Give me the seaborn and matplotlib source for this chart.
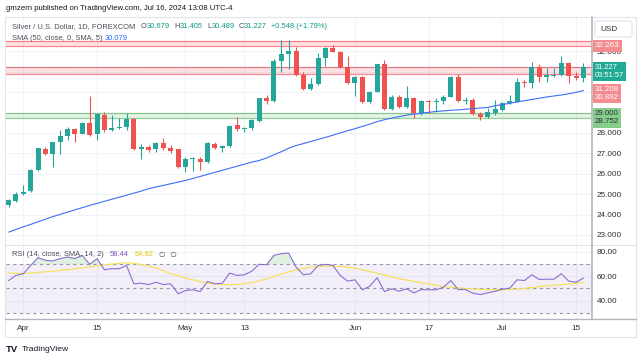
import matplotlib
matplotlib.use("Agg")
import matplotlib.pyplot as plt
import seaborn as sns
import numpy as np
import pandas as pd
from matplotlib.lines import Line2D
from matplotlib.patches import FancyBboxPatch
from matplotlib import transforms

# ---------------- data ----------------
dates = pd.bdate_range("2024-03-28", "2024-07-16")

opens = [24.48, 24.68, 24.99, 25.15, 26.17, 27.21, 26.95, 27.54, 27.87, 28.18,
         27.95, 28.47, 27.93, 28.88, 28.14, 28.22, 28.27, 28.68, 27.21, 27.33,
         27.21, 27.49, 27.28, 27.20, 26.31, 26.71, 26.72, 26.57, 27.46, 27.24,
         27.36, 28.39, 28.19, 28.22, 28.58, 29.70, 29.56, 31.53, 31.85, 32.02,
         30.84, 30.15, 30.38, 31.66, 32.15, 31.98, 31.21, 30.43, 30.76, 29.50,
         30.02, 31.36, 29.17, 29.78, 29.29, 29.73, 28.96, 29.56, 29.50, 29.56,
         29.78, 30.76, 29.55, 29.60, 28.94, 28.80, 28.98, 29.12, 29.48, 29.53,
         30.51, 30.43, 31.21, 30.76, 30.81, 30.84, 31.44, 30.81, 30.679]
highs = [24.76, 25.12, 25.45, 26.23, 27.28, 27.33, 27.57, 28.14, 28.31, 28.22,
         28.55, 29.81, 28.93, 29.04, 28.88, 28.71, 28.96, 28.71, 27.44, 27.41,
         27.57, 27.74, 27.41, 27.22, 26.84, 26.84, 26.84, 27.57, 27.57, 27.41,
         28.39, 28.80, 28.31, 28.67, 29.73, 29.86, 31.61, 32.55, 32.55, 32.23,
         30.97, 30.68, 31.90, 32.23, 32.31, 32.02, 31.79, 30.79, 30.79, 30.05,
         31.39, 31.57, 29.86, 29.86, 30.32, 29.76, 29.60, 29.60, 29.70, 29.86,
         30.79, 30.89, 29.76, 29.70, 29.04, 29.20, 29.61, 29.53, 29.86, 30.68,
         30.59, 31.49, 31.36, 31.17, 31.20, 31.79, 31.49, 30.97, 31.405]
lows = [24.38, 24.63, 24.96, 25.12, 26.15, 26.92, 26.35, 26.95, 27.65, 27.57,
        27.93, 27.85, 27.65, 28.06, 28.11, 28.20, 28.14, 27.16, 26.72, 27.08,
        27.05, 27.16, 27.00, 26.28, 26.10, 26.13, 26.18, 26.55, 27.21, 27.05,
        27.33, 28.11, 28.03, 28.14, 28.55, 29.40, 29.53, 31.00, 31.13, 30.81,
        30.10, 30.10, 30.35, 31.30, 31.95, 31.17, 30.40, 29.83, 29.45, 29.45,
        29.99, 29.14, 29.12, 29.24, 29.24, 28.71, 28.88, 28.96, 29.01, 29.40,
        29.74, 29.50, 29.40, 28.88, 28.63, 28.71, 28.88, 29.07, 29.42, 29.50,
        30.27, 30.19, 30.51, 30.51, 30.76, 30.81, 30.43, 30.59, 30.489]
closes = [24.70, 25.01, 25.12, 26.18, 27.24, 26.95, 27.54, 27.87, 28.18, 27.95,
          28.50, 27.90, 28.91, 28.14, 28.22, 28.27, 28.68, 27.21, 27.33, 27.16,
          27.49, 27.28, 27.13, 26.31, 26.71, 26.75, 26.57, 27.49, 27.24, 27.36,
          28.36, 28.18, 28.22, 28.63, 29.70, 29.56, 31.53, 31.85, 32.03, 30.84,
          30.15, 30.38, 31.66, 32.15, 31.98, 31.21, 30.43, 30.76, 29.50, 30.02,
          31.36, 29.17, 29.78, 29.29, 29.73, 28.96, 29.56, 29.50, 29.56, 29.78,
          30.76, 29.56, 29.60, 28.91, 28.80, 29.01, 29.17, 29.48, 29.58, 30.51,
          30.43, 31.21, 30.76, 30.84, 30.84, 31.44, 30.81, 30.679, 31.227]
sma50 = [23.14, 23.27, 23.40, 23.52, 23.65, 23.77, 23.90, 24.01, 24.12, 24.23,
         24.34, 24.45, 24.55, 24.65, 24.75, 24.85, 24.95, 25.05, 25.15, 25.27,
         25.35, 25.43, 25.51, 25.59, 25.67, 25.77, 25.87, 25.97, 26.07, 26.17,
         26.27, 26.37, 26.47, 26.57, 26.65, 26.77, 26.93, 27.08, 27.25, 27.38,
         27.48, 27.58, 27.68, 27.78, 27.89, 28.00, 28.11, 28.21, 28.32, 28.43,
         28.55, 28.65, 28.73, 28.80, 28.87, 28.92, 28.97, 29.01, 29.05, 29.08,
         29.11, 29.13, 29.16, 29.19, 29.22, 29.25, 29.33, 29.39, 29.45, 29.52,
         29.58, 29.64, 29.70, 29.76, 29.81, 29.86, 29.92, 29.99, 30.079]
rsi = [56.4, 60.6, 62.0, 68.8, 75.2, 73.0, 72.5, 74.4, 75.7, 74.5,
       77.1, 69.7, 74.4, 65.3, 66.1, 66.1, 68.8, 53.7, 54.2, 53.1,
       55.0, 53.1, 53.7, 45.5, 48.2, 48.8, 47.4, 55.6, 53.7, 54.2,
       62.5, 60.6, 61.1, 64.1, 69.7, 69.4, 77.1, 78.5, 79.0, 67.5,
       61.1, 62.0, 68.8, 69.7, 68.8, 60.6, 55.9, 57.0, 48.8, 51.7,
       58.7, 47.4, 49.6, 47.6, 49.6, 46.3, 49.0, 48.8, 48.8, 50.9,
       56.4, 49.0, 49.0, 46.0, 44.9, 46.3, 47.6, 49.3, 50.1, 57.0,
       56.4, 61.1, 57.3, 57.5, 57.5, 62.0, 55.9, 55.0, 58.44]
rsi_ma = [62.6, 62.3, 62.2, 62.6, 63.0, 63.6, 64.1, 64.7, 65.3, 66.0,
          66.8, 67.6, 68.5, 69.2, 69.9, 70.6, 71.0, 70.6, 69.5, 68.3,
          66.8, 64.5, 62.0, 60.5, 58.3, 57.0, 55.3, 54.5, 53.5, 53.0,
          52.9, 53.3, 53.8, 54.8, 56.0, 57.8, 59.8, 61.8, 63.5, 65.1,
          66.3, 67.4, 68.0, 68.3, 68.2, 68.0, 67.5, 66.5, 65.2, 63.8,
          62.5, 61.0, 59.4, 57.8, 56.8, 55.7, 54.6, 53.7, 52.5, 51.5,
          50.9, 50.4, 49.9, 49.5, 49.2, 48.9, 48.8, 48.8, 49.0, 49.3,
          49.9, 50.6, 51.3, 52.0, 52.5, 53.0, 53.5, 54.0, 54.92]

time_tick_dates = ["2024-04-01", "2024-04-15", "2024-05-01", "2024-05-13",
                   "2024-06-03", "2024-06-17", "2024-07-01", "2024-07-15"]
time_tick_labels = ["Apr", "15", "May", "13", "Jun", "17", "Jul", "15"]
price_ticks = [23, 24, 25, 26, 27, 28, 29, 30, 31, 32]
price_tick_shown = [23, 24, 25, 26, 27, 28, 32]
rsi_ticks = [40, 60, 80]
zone_top = (32.263, 32.51)
zone_mid = (30.892, 31.208)
zone_support = (28.752, 29.0)
last_price = 31.227

# ---------------- style ----------------
UP, DOWN = "#26a69a", "#ef5350"
TXT = "#2a2e39"
GRID = "#f0f3fa"
sns.set_theme(style="white")
plt.rcParams["font.family"] = ["Liberation Sans", "DejaVu Sans"]

W, H = 643, 361
fig = plt.figure(figsize=(W / 100, H / 100), dpi=100)
fig.patch.set_facecolor("white")
renderer = fig.canvas.get_renderer()


def fx(px):
    return px / W


def fy(py):
    return 1 - py / H


LX, RX = 6, 592
ax = fig.add_axes([fx(LX), fy(245), fx(RX) - fx(LX), fy(17) - fy(245)])
ax2 = fig.add_axes([fx(LX), fy(319), fx(RX) - fx(LX), fy(245) - fy(319)], sharex=ax)

df = pd.DataFrame({"date": dates, "open": opens, "high": highs, "low": lows,
                   "close": closes, "sma": sma50, "rsi": rsi, "rsi_ma": rsi_ma})
df["i"] = np.arange(len(df))
pos = {d: i for i, d in enumerate(df["date"])}
tick_pos = [pos[pd.Timestamp(d)] for d in time_tick_dates]

# ---------------- price pane ----------------
up = df["close"] >= df["open"]
cols = np.where(up, UP, DOWN)
ax.vlines(df["i"], df["low"], df["high"], colors=cols, lw=0.8, zorder=3)
body = (df["close"] - df["open"]).abs().clip(lower=0.04)
ax.bar(df["i"], body, bottom=np.minimum(df["open"], df["close"]), width=0.68,
       color=cols, linewidth=0, zorder=4)

sns.lineplot(x=df["i"], y=df["sma"], ax=ax, color="#3d6ff5", lw=0.8, zorder=5)

for lo, hi, c in [(zone_top[0], zone_top[1], "#f23645"),
                  (zone_mid[0], zone_mid[1], "#f23645"),
                  (zone_support[0], zone_support[1], "#4caf50")]:
    ax.axhspan(lo, hi, color=c, alpha=0.14, lw=0, zorder=2)
    ax.axhline(lo, color=c, lw=0.9, alpha=0.6, zorder=2)
    ax.axhline(hi, color=c, lw=0.9, alpha=0.6, zorder=2)
ax.axhline(last_price, color="#7a7f8a", lw=0.6, ls=(0, (1, 1.5)), alpha=0.8, zorder=2)

ax.set_xlim(-0.35, 79.16)
ax.set_ylim(22.51, 33.68)
ax.set_yticks(price_ticks)
ax.set_yticklabels([f"{t:.3f}" if t in price_tick_shown else "" for t in price_ticks])
ax.yaxis.tick_right()
ax.tick_params(axis="y", length=0, pad=3.6, labelsize=5.9, labelcolor=TXT)
ax.set_xticks(tick_pos)
ax.tick_params(axis="x", length=0, labelbottom=False)
ax.grid(True, color=GRID, lw=0.8)
ax.set_axisbelow(True)
ax.set_xlabel("")
ax.set_ylabel("")
for s in ax.spines.values():
    s.set_visible(False)

# right-side price labels
blend = transforms.blended_transform_factory(ax.transAxes, ax.transData)


def plabel(text, value, dy, fc, tc, size=5.9):
    ax.annotate(text, xy=(1.0, value), xycoords=blend, xytext=(2.8, dy),
                textcoords="offset pixels", ha="left", va="center", fontsize=size,
                color=tc, zorder=20, annotation_clip=False,
                bbox=dict(boxstyle="square,pad=0.28", fc=fc, ec="none"))


plabel("32.263", zone_top[0], 0, "#f58a8f", "white")
plabel("31.227\n03:51:57", last_price, -4.6, "#22ab94", "white", size=5.4)
plabel("31.208\n30.892", zone_mid[1], -26.0, "#f58a8f", "white", size=5.7)
plabel("29.000\n28.752", zone_support[1], -5.3, "#86cc8a", TXT, size=5.7)

# ---------------- RSI pane ----------------
ax2.axhspan(30, 70, color="#7e57c2", alpha=0.09, lw=0)
for lvl in (70, 50, 30):
    ax2.axhline(lvl, color="#9598a1", lw=0.8, ls=(0, (3, 3)))
ax2.fill_between(df["i"], df["rsi"], 70, where=df["rsi"] > 70, interpolate=True,
                 color="#4caf50", alpha=0.18, lw=0)
sns.lineplot(x=df["i"], y=df["rsi_ma"], ax=ax2, color="#f5e050", lw=0.8)
sns.lineplot(x=df["i"], y=df["rsi"], ax=ax2, color="#8a6fd1", lw=0.8)
ax2.set_ylim(24.8, 85.6)
ax2.set_yticks(rsi_ticks)
ax2.set_yticklabels([f"{t:.2f}" for t in rsi_ticks])
ax2.yaxis.tick_right()
ax2.tick_params(axis="y", length=0, pad=3.6, labelsize=5.9, labelcolor=TXT)
ax2.set_xticks(tick_pos)
ax2.set_xticklabels(time_tick_labels)
ax2.tick_params(axis="x", length=0, pad=4.0, labelsize=5.9, labelcolor=TXT)
ax2.grid(True, color=GRID, lw=0.8)
ax2.set_axisbelow(True)
ax2.set_xlabel("")
ax2.set_ylabel("")
for s in ax2.spines.values():
    s.set_visible(False)


# ---------------- frame lines ----------------
def hline(y, x0, x1, color, lw):
    fig.add_artist(Line2D([fx(x0), fx(x1)], [fy(y), fy(y)], color=color, lw=lw,
                          transform=fig.transFigure))


def vline(x, y0, y1, color, lw):
    fig.add_artist(Line2D([fx(x), fx(x)], [fy(y0), fy(y1)], color=color, lw=lw,
                          transform=fig.transFigure))


hline(17, 5, 636, "#e0e3eb", 0.8)
hline(337, 5, 636, "#e0e3eb", 0.8)
vline(5, 17, 337, "#e0e3eb", 0.8)
vline(636, 17, 337, "#e0e3eb", 0.8)
hline(245, 5, 636, "#e0e3eb", 0.8)
hline(319, 5, 636, "#b2b5be", 1.0)
vline(592, 17, 319, "#b2b5be", 1.2)

# USD box
fig.add_artist(FancyBboxPatch((fx(595), fy(37)), fx(632) - fx(595), fy(21) - fy(37),
                              boxstyle="round,pad=0,rounding_size=0.006",
                              fc="white", ec="#e0e3eb", lw=0.8,
                              transform=fig.transFigure))
fig.text(fx(600), fy(29.5), "USD", fontsize=5.9, color=TXT, va="center", ha="left")


# ---------------- texts ----------------
def seq_text(x_px, y_fig, parts, size):
    """Write coloured parts one after the other, starting at x_px."""
    x = x_px
    for txt, col, gap in parts:
        t = fig.text(fx(x), y_fig, txt, fontsize=size, color=col, va="center")
        x += t.get_window_extent(renderer).width + gap
    return x


fig.text(fx(6), fy(8.5), "gmzern published on TradingView.com, Jul 16, 2024 13:08 UTC-4",
         fontsize=5.6, color="#131722", va="center", ha="left")

LG = "#4a4e59"
TEAL = "#089981"
FS = 5.4
y1 = fy(26.5)
fig.text(fx(11.7), y1, "Silver / U.S. Dollar, 1D, FOREXCOM", fontsize=FS, color=LG, va="center")
seq_text(141.0, y1, [("O", LG, 0.3), ("30.679", TEAL, 4.0),
                     ("H", LG, 0.3), ("31.405", TEAL, 4.0),
                     ("L", LG, 0.3), ("30.489", TEAL, 4.0),
                     ("C", LG, 0.3), ("31.227", TEAL, 4.0),
                     ("+0.548 (+1.79%)", TEAL, 0)], FS)

y2 = fy(38.5)
fig.text(fx(11.7), y2, "SMA (50, close, 0, SMA, 5)", fontsize=FS, color=LG, va="center")
fig.text(fx(105), y2, "30.079", fontsize=FS, color="#2962ff", va="center")

y3 = fy(255)
fig.text(fx(11.7), y3, "RSI (14, close, SMA, 14, 2)", fontsize=FS, color=LG, va="center")
fig.text(fx(110), y3, "58.44", fontsize=FS, color="#7e57c2", va="center")
fig.text(fx(135), y3, "54.92", fontsize=FS, color="#e6c800", va="center")
fig.text(fx(159), y3, "\u2205  \u2205", fontsize=FS, color=LG, va="center",
         family=["DejaVu Sans"])

# TradingView logo
fig.text(fx(6), fy(349.5), "TV", fontsize=6.8, color="#131722", va="center",
         fontweight="bold")
fig.text(fx(21.5), fy(349.5), "TradingView", fontsize=6.1, color="#131722", va="center")

fig.savefig("out.png", dpi=100, facecolor="white")
